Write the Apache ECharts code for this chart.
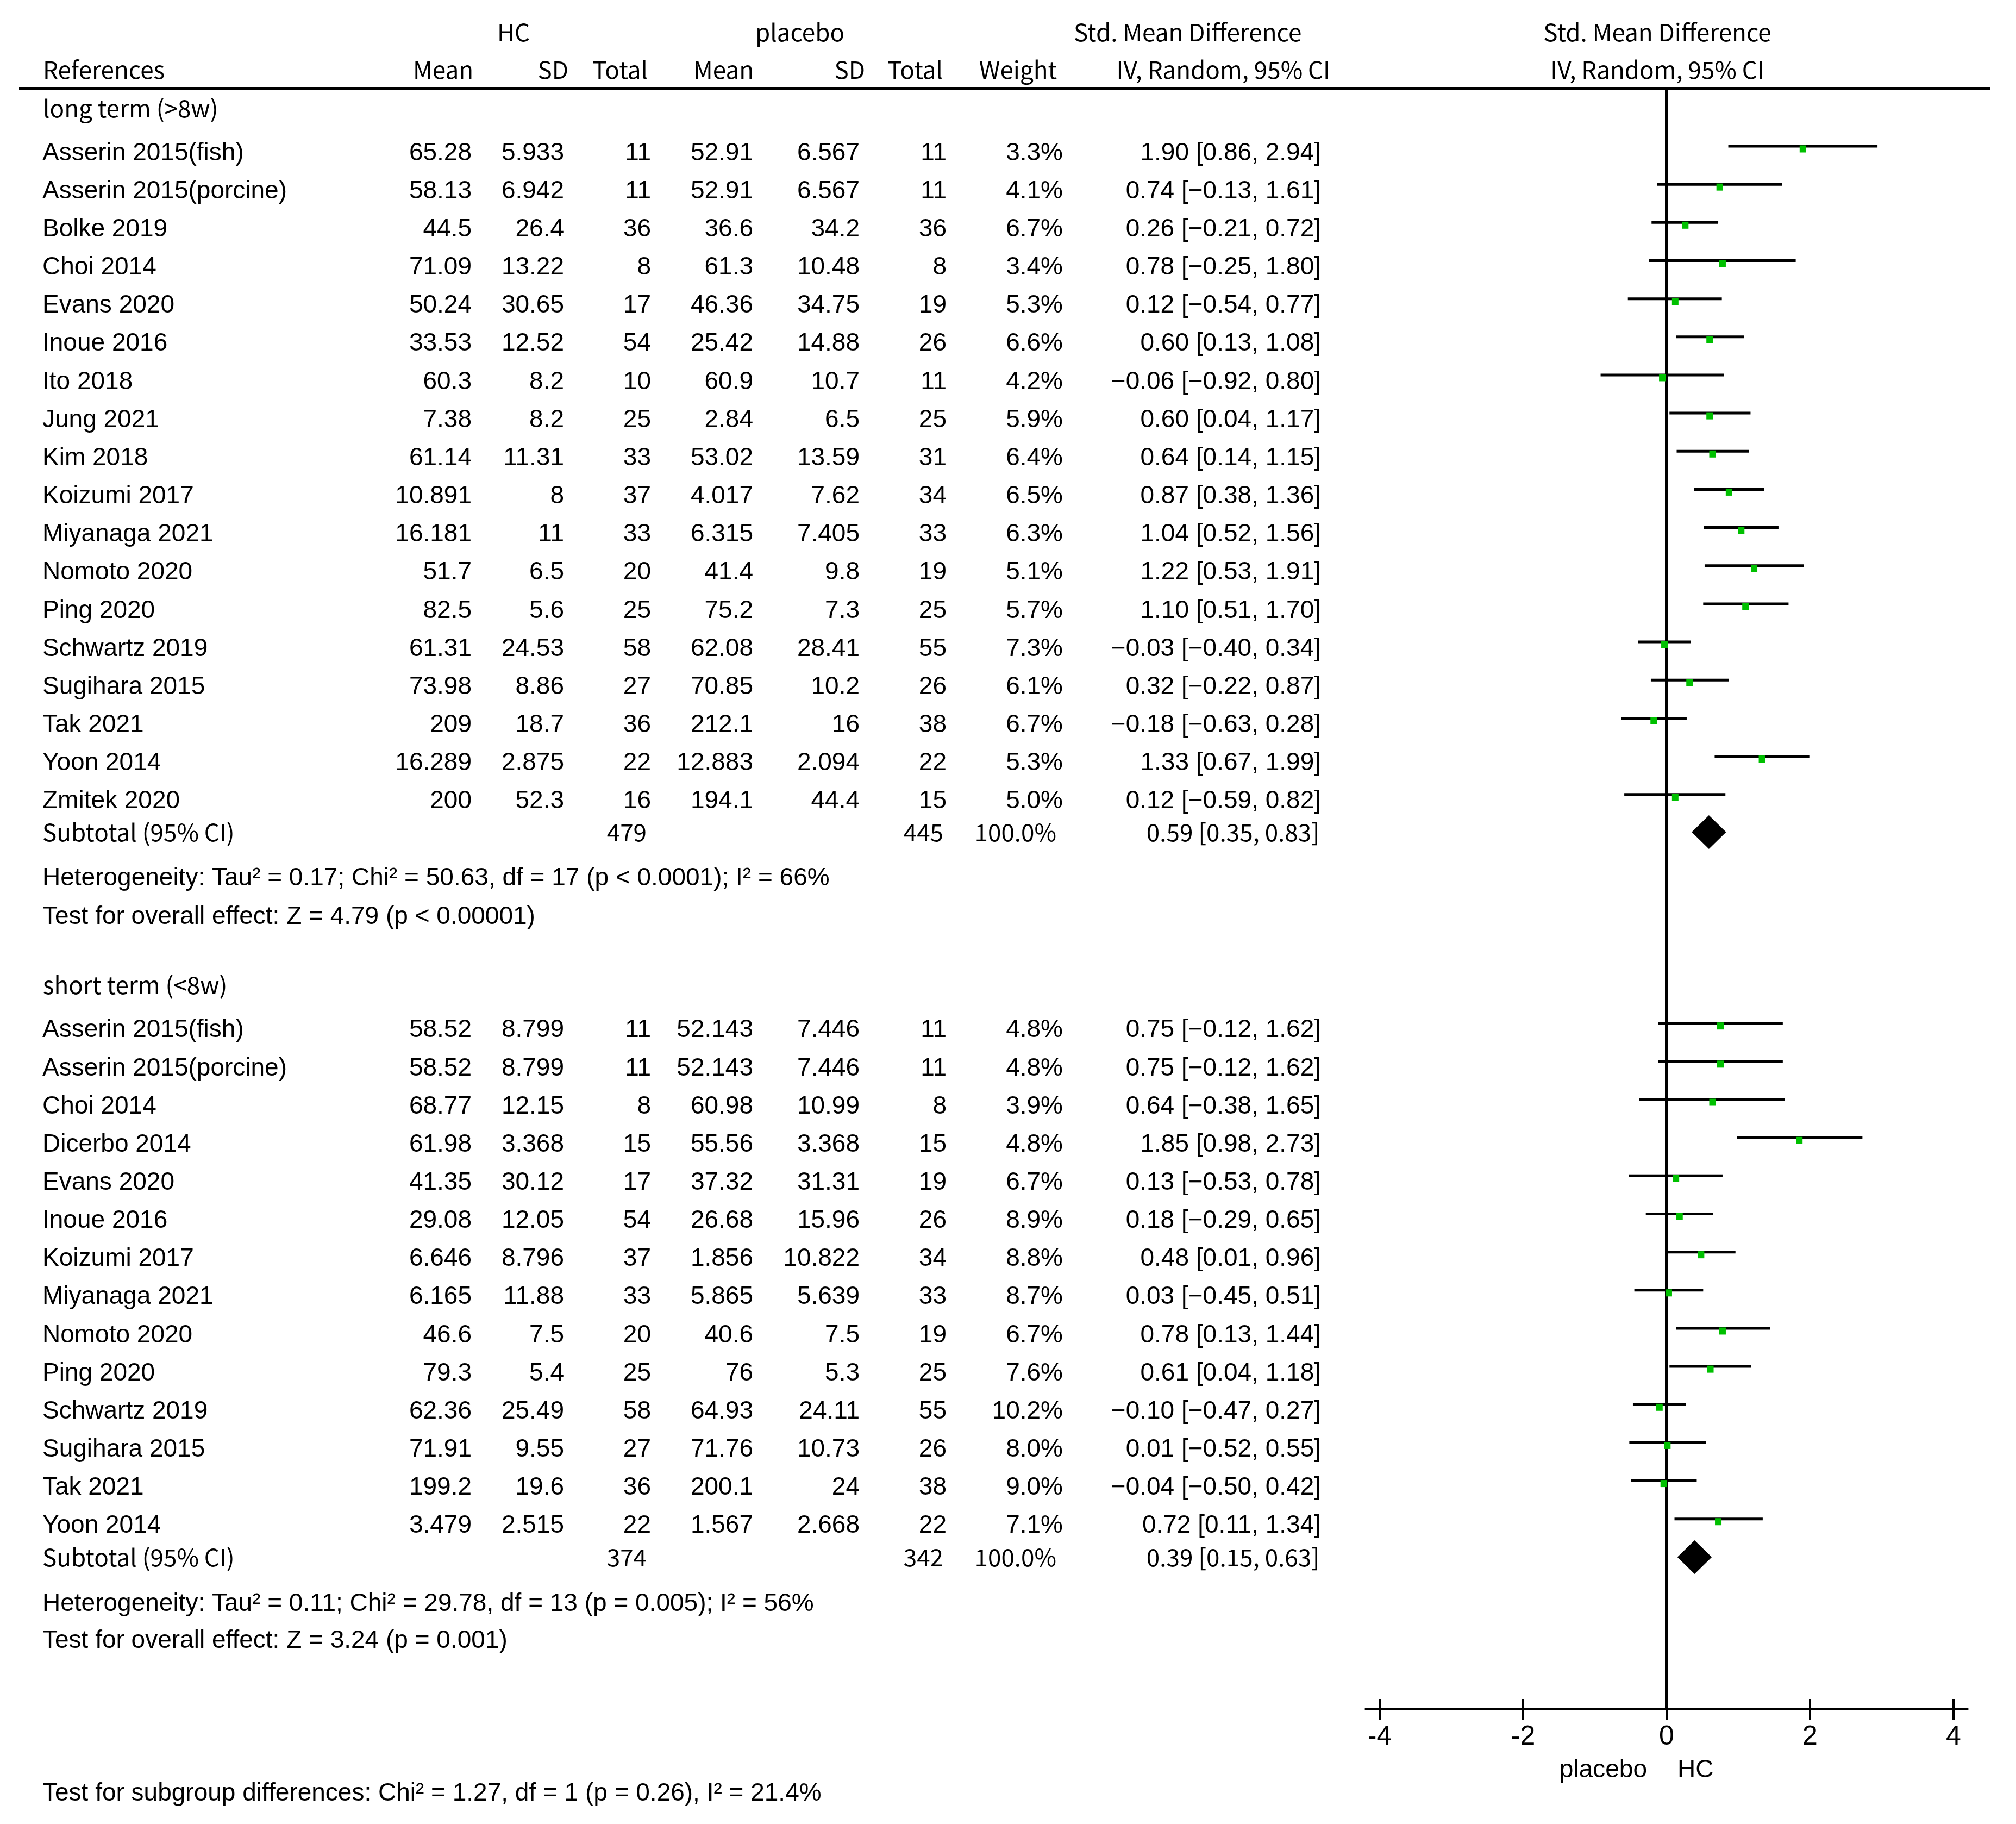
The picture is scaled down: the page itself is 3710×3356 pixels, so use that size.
<!DOCTYPE html>
<html><head><meta charset="utf-8">
<script src="https://cdn.jsdelivr.net/npm/echarts@6/dist/echarts.min.js"></script>
<style>html,body{margin:0;padding:0;background:#fff}#c{width:3710px;height:3356px}</style>
</head><body><div id="c"></div>
<script>
// ---------- DATA ----------
const longStudies = ["Asserin 2015(fish)","Asserin 2015(porcine)","Bolke 2019","Choi 2014","Evans 2020","Inoue 2016","Ito 2018","Jung 2021","Kim 2018","Koizumi 2017","Miyanaga 2021","Nomoto 2020","Ping 2020","Schwartz 2019","Sugihara 2015","Tak 2021","Yoon 2014","Zmitek 2020"];
const longHcMean = [65.28,58.13,44.5,71.09,50.24,33.53,60.3,7.38,61.14,10.891,16.181,51.7,82.5,61.31,73.98,209,16.289,200];
const longHcSD   = [5.933,6.942,26.4,13.22,30.65,12.52,8.2,8.2,11.31,8,11,6.5,5.6,24.53,8.86,18.7,2.875,52.3];
const longHcN    = [11,11,36,8,17,54,10,25,33,37,33,20,25,58,27,36,22,16];
const longPlMean = [52.91,52.91,36.6,61.3,46.36,25.42,60.9,2.84,53.02,4.017,6.315,41.4,75.2,62.08,70.85,212.1,12.883,194.1];
const longPlSD   = [6.567,6.567,34.2,10.48,34.75,14.88,10.7,6.5,13.59,7.62,7.405,9.8,7.3,28.41,10.2,16,2.094,44.4];
const longPlN    = [11,11,36,8,19,26,11,25,31,34,33,19,25,55,26,38,22,15];
const longWeight = [3.3,4.1,6.7,3.4,5.3,6.6,4.2,5.9,6.4,6.5,6.3,5.1,5.7,7.3,6.1,6.7,5.3,5.0];
const longSmd    = [1.90,0.74,0.26,0.78,0.12,0.60,-0.06,0.60,0.64,0.87,1.04,1.22,1.10,-0.03,0.32,-0.18,1.33,0.12];
const longLo     = [0.86,-0.13,-0.21,-0.25,-0.54,0.13,-0.92,0.04,0.14,0.38,0.52,0.53,0.51,-0.40,-0.22,-0.63,0.67,-0.59];
const longHi     = [2.94,1.61,0.72,1.80,0.77,1.08,0.80,1.17,1.15,1.36,1.56,1.91,1.70,0.34,0.87,0.28,1.99,0.82];
const longSubtotal = {hcN:479, plN:445, weight:100.0, smd:0.59, lo:0.35, hi:0.83};
const longHet  = "Heterogeneity: Tau² = 0.17; Chi² = 50.63, df = 17 (p < 0.0001); I² = 66%";
const longTest = "Test for overall effect: Z = 4.79 (p < 0.00001)";

const shortStudies = ["Asserin 2015(fish)","Asserin 2015(porcine)","Choi 2014","Dicerbo 2014","Evans 2020","Inoue 2016","Koizumi 2017","Miyanaga 2021","Nomoto 2020","Ping 2020","Schwartz 2019","Sugihara 2015","Tak 2021","Yoon 2014"];
const shortHcMean = [58.52,58.52,68.77,61.98,41.35,29.08,6.646,6.165,46.6,79.3,62.36,71.91,199.2,3.479];
const shortHcSD   = [8.799,8.799,12.15,3.368,30.12,12.05,8.796,11.88,7.5,5.4,25.49,9.55,19.6,2.515];
const shortHcN    = [11,11,8,15,17,54,37,33,20,25,58,27,36,22];
const shortPlMean = [52.143,52.143,60.98,55.56,37.32,26.68,1.856,5.865,40.6,76,64.93,71.76,200.1,1.567];
const shortPlSD   = [7.446,7.446,10.99,3.368,31.31,15.96,10.822,5.639,7.5,5.3,24.11,10.73,24,2.668];
const shortPlN    = [11,11,8,15,19,26,34,33,19,25,55,26,38,22];
const shortWeight = [4.8,4.8,3.9,4.8,6.7,8.9,8.8,8.7,6.7,7.6,10.2,8.0,9.0,7.1];
const shortSmd    = [0.75,0.75,0.64,1.85,0.13,0.18,0.48,0.03,0.78,0.61,-0.10,0.01,-0.04,0.72];
const shortLo     = [-0.12,-0.12,-0.38,0.98,-0.53,-0.29,0.01,-0.45,0.13,0.04,-0.47,-0.52,-0.50,0.11];
const shortHi     = [1.62,1.62,1.65,2.73,0.78,0.65,0.96,0.51,1.44,1.18,0.27,0.55,0.42,1.34];
const shortSubtotal = {hcN:374, plN:342, weight:100.0, smd:0.39, lo:0.15, hi:0.63};
const shortHet  = "Heterogeneity: Tau² = 0.11; Chi² = 29.78, df = 13 (p = 0.005); I² = 56%";
const shortTest = "Test for overall effect: Z = 3.24 (p = 0.001)";

const subgroupTest = "Test for subgroup differences: Chi² = 1.27, df = 1 (p = 0.26), I² = 21.4%";
const xTicks = [-4, -2, 0, 2, 4];
const groupTitles = ["long term (>8w)", "short term (<8w)"];
const favourLeft = "placebo", favourRight = "HC";

// ---------- LAYOUT ----------
const W = 3710, H = 3356;
const ROW_PX = 70.16, ROW0_Y = 277;          // pixel y of row 0
const TOP_RULE_Y = 163, AXIS_Y = 3144;
const rowOf = y => (y - ROW0_Y) / ROW_PX;
const ZERO_X = 3067, UNIT_PX = 132, XEXT = 4.19;
const FB = '46px "Liberation Sans", Arial, sans-serif';
const FH = '44px "Noto Sans CJK SC", "Noto Sans", sans-serif';
const FB_DY = 5;

const C = {name:78, hcMean:868, hcSD:1038, hcN:1198, plMean:1386, plSD:1582, plN:1742, weight:1956, ci:2431};
const fmt = v => (v < 0 ? '\u2212' : '') + Math.abs(v).toFixed(2);
const ciText = (e,l,h) => fmt(e) + ' [' + fmt(l) + ', ' + fmt(h) + ']';

const texts = [];
function T(x, r, text, align, font){ texts.push({x, r, text, align, font}); }

// headers
const rH1 = rowOf(59), rH2 = rowOf(128);
T(945, rH1, "HC", 'center', FH);
T(1472, rH1, "placebo", 'center', FH);
T(1976, rH1, "Std. Mean Difference", 'left', FH);
T(3050, rH1, "Std. Mean Difference", 'center', FH);
T(79, rH2, "References", 'left', FH);
T(871, rH2, "Mean", 'right', FH);
T(1046, rH2, "SD", 'right', FH);
T(1192, rH2, "Total", 'right', FH);
T(1387, rH2, "Mean", 'right', FH);
T(1592, rH2, "SD", 'right', FH);
T(1735, rH2, "Total", 'right', FH);
T(1945, rH2, "Weight", 'right', FH);
T(2448, rH2, "IV, Random, 95% CI", 'right', FH);
T(3050, rH2, "IV, Random, 95% CI", 'center', FH);

const groups = [
  {title:groupTitles[0], titleR:rowOf(199), start:0, studies:longStudies, hm:longHcMean, hs:longHcSD, hn:longHcN, pm:longPlMean, ps:longPlSD, pn:longPlN, w:longWeight, e:longSmd, lo:longLo, hi:longHi, sub:longSubtotal, subR:rowOf(1531), het:longHet, hetR:rowOf(1611), test:longTest, testR:rowOf(1682)},
  {title:groupTitles[1], titleR:rowOf(1812), start:23, studies:shortStudies, hm:shortHcMean, hs:shortHcSD, hn:shortHcN, pm:shortPlMean, ps:shortPlSD, pn:shortPlN, w:shortWeight, e:shortSmd, lo:shortLo, hi:shortHi, sub:shortSubtotal, subR:rowOf(2865), het:shortHet, hetR:rowOf(2946), test:shortTest, testR:rowOf(3014)}
];
const ciData = [], diaData = [];
groups.forEach(g => {
  T(79, g.titleR, g.title, 'left', FH);
  g.studies.forEach((s, i) => {
    const r = g.start + i;
    T(C.name, r, s, 'left', FB);
    T(C.hcMean, r, String(g.hm[i]), 'right', FB);
    T(C.hcSD, r, String(g.hs[i]), 'right', FB);
    T(C.hcN, r, String(g.hn[i]), 'right', FB);
    T(C.plMean, r, String(g.pm[i]), 'right', FB);
    T(C.plSD, r, String(g.ps[i]), 'right', FB);
    T(C.plN, r, String(g.pn[i]), 'right', FB);
    T(C.weight, r, g.w[i].toFixed(1) + '%', 'right', FB);
    T(C.ci, r, ciText(g.e[i], g.lo[i], g.hi[i]), 'right', FB);
    ciData.push([g.lo[i], g.hi[i], g.e[i], r]);
  });
  T(C.name, g.subR, "Subtotal (95% CI)", 'left', FH);
  T(1190, g.subR, String(g.sub.hcN), 'right', FH);
  T(1736, g.subR, String(g.sub.plN), 'right', FH);
  T(1944, g.subR, g.sub.weight.toFixed(1) + '%', 'right', FH);
  T(2428, g.subR, ciText(g.sub.smd, g.sub.lo, g.sub.hi), 'right', FH);
  T(C.name, g.hetR, g.het, 'left', FB);
  T(C.name, g.testR, g.test, 'left', FB);
  diaData.push([g.sub.lo, g.sub.hi, g.sub.smd, g.subR]);
});
T(C.name, rowOf(3295), subgroupTest, 'left', FB);
T(3031, rowOf(3252), favourLeft, 'right', FB);
T(3087, rowOf(3252), favourRight, 'left', FB);

const rTop = rowOf(TOP_RULE_Y), rAxis = rowOf(AXIS_Y);

const chart = echarts.init(document.getElementById('c'), null, {renderer:'canvas'});
const tickCommon = {fontFamily:'"Liberation Sans", Arial, sans-serif', fontSize:50, color:'#000'};
chart.setOption({
  animation:false,
  backgroundColor:'#fff',
  grid:[
    {left:0, top:0, width:W, height:H},
    {left:ZERO_X - XEXT*UNIT_PX, width:2*XEXT*UNIT_PX, top:TOP_RULE_Y, height:AXIS_Y - TOP_RULE_Y}
  ],
  xAxis:[
    {gridIndex:0, type:'value', min:0, max:W, show:false},
    {gridIndex:1, type:'value', min:-XEXT, max:XEXT, position:'bottom',
      axisLine:{show:true, onZero:false, lineStyle:{color:'#000', width:5}},
      axisTick:{show:true, customValues:xTicks, length:21, lineStyle:{color:'#000', width:4}},
      axisLabel:{show:true, customValues:xTicks, margin:27, ...tickCommon},
      splitLine:{show:false}},
    {gridIndex:1, type:'value', min:-XEXT, max:XEXT, position:'bottom',
      axisLine:{show:false, onZero:false},
      axisTick:{show:true, inside:true, customValues:xTicks, length:18, lineStyle:{color:'#000', width:4}},
      axisLabel:{show:false}, splitLine:{show:false}}
  ],
  yAxis:[
    {gridIndex:0, type:'value', inverse:true, min:rowOf(0), max:rowOf(H), show:false},
    {gridIndex:1, type:'value', inverse:true, min:rTop, max:rAxis, show:false}
  ],
  series:[
    { // top rule
      type:'line', xAxisIndex:0, yAxisIndex:0, data:[[35, rTop],[3663, rTop]],
      symbol:'none', lineStyle:{color:'#000', width:6}, silent:true, z:1
    },
    { // line of no effect
      type:'line', xAxisIndex:1, yAxisIndex:1, data:[[0, rTop],[0, rAxis]],
      symbol:'none', lineStyle:{color:'#000', width:6}, silent:true, z:2
    },
    { // study CIs + point estimates
      type:'custom', xAxisIndex:1, yAxisIndex:1, data:ciData, z:3, clip:false,
      encode:{x:[0,1,2], y:3},
      renderItem:function(params, api){
        const a = api.coord([api.value(0), api.value(3)]);
        const b = api.coord([api.value(1), api.value(3)]);
        const m = api.coord([api.value(2), api.value(3)]);
        const y = a[1] - 8;
        return {type:'group', children:[
          {type:'line', shape:{x1:a[0], y1:y, x2:b[0], y2:y}, style:{stroke:'#000', lineWidth:5}},
          {type:'rect', shape:{x:m[0]-6, y:y-1.5, width:12, height:13}, style:{fill:'#00c000'}}
        ]};
      }
    },
    { // subtotal diamonds
      type:'custom', xAxisIndex:1, yAxisIndex:1, data:diaData, z:3, clip:false,
      encode:{x:[0,1,2], y:3},
      renderItem:function(params, api){
        const a = api.coord([api.value(0), api.value(3)]);
        const b = api.coord([api.value(1), api.value(3)]);
        const m = api.coord([api.value(2), api.value(3)]);
        return {type:'polygon', shape:{points:[[a[0],a[1]],[m[0],m[1]-31],[b[0],b[1]],[m[0],m[1]+31]]},
          style:{fill:'#000'}};
      }
    },
    { // table text
      type:'custom', xAxisIndex:0, yAxisIndex:0, clip:false, z:4,
      data:texts.map(t => [t.x, t.r]),
      encode:{x:0, y:1},
      renderItem:function(params, api){
        const t = texts[params.dataIndex];
        const p = api.coord([api.value(0), api.value(1)]);
        return {type:'text', x:p[0], y:p[1] + (t.font === FB ? FB_DY : 0),
          style:{text:t.text, fill:'#000', font:t.font, align:t.align, verticalAlign:'middle'}};
      }
    }
  ]
});
</script></body></html>
